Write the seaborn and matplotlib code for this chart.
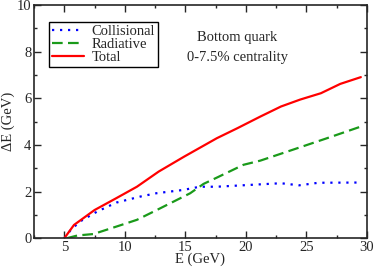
import numpy as np
import pandas as pd
import matplotlib
matplotlib.use("Agg")
import matplotlib.pyplot as plt
import seaborn as sns
from matplotlib.ticker import MultipleLocator

# values
e_coll = [5.0, 5.6, 6.4, 7.7, 9.3, 11.3, 12.6, 14.8, 16.2, 17.6, 20.4, 22.9, 24.4, 26.0, 29.5]
coll = [0.0, 0.4, 0.75, 1.14, 1.53, 1.79, 1.93, 2.07, 2.21, 2.21, 2.29, 2.36, 2.27, 2.38, 2.39]

e_rad = [5.2, 6.1, 7.4, 9.3, 11.0, 12.6, 15.4, 16.5, 17.6, 19.8, 21.2, 23.9, 26.7, 29.5]
rad = [0.0, 0.12, 0.18, 0.5, 0.79, 1.2, 1.93, 2.33, 2.6, 3.15, 3.33, 3.8, 4.29, 4.79]

e_tot = [5.0, 5.8, 7.5, 9.3, 11.0, 12.8, 14.9, 17.6, 19.3, 21.2, 22.9, 24.5, 26.2, 27.8, 29.5]
tot = [0.0, 0.57, 1.21, 1.72, 2.21, 2.86, 3.5, 4.29, 4.72, 5.22, 5.65, 5.95, 6.22, 6.62, 6.91]

sns.set_style("ticks")
plt.rcParams['font.family'] = ['Liberation Serif', 'DejaVu Serif']

fs = 10.5

fig = plt.figure(figsize=(3.74, 2.68), dpi=100)
ax = fig.add_axes([0.091, 0.111, 0.890, 0.870])

sns.lineplot(x=e_coll, y=coll, ax=ax, color='#0000ff', lw=1.6,
             linestyle=(0, (1, 2.6)), label='Collisional')
sns.lineplot(x=e_rad, y=rad, ax=ax, color='#1a9a1a', lw=1.6,
             linestyle=(0, (4.8, 2.4)), label='Radiative')
sns.lineplot(x=e_tot, y=tot, ax=ax, color='#ff0000', lw=1.6,
             label='Total')

ax.set_xlim(2.5, 30)
ax.set_ylim(0, 10)
ax.xaxis.set_major_locator(MultipleLocator(5))
ax.xaxis.set_minor_locator(MultipleLocator(2.5))
ax.yaxis.set_major_locator(MultipleLocator(2))
ax.yaxis.set_minor_locator(MultipleLocator(1))
ax.tick_params(which='both', direction='in', top=True, right=True,
               labelsize=fs, width=1.0, pad=2)
ax.tick_params(which='major', length=5)
ax.tick_params(which='minor', length=2.5)
for sp in ax.spines.values():
    sp.set_linewidth(1.2)

ax.set_xlabel('E (GeV)', fontsize=fs, labelpad=-1)
ax.set_ylabel('ΔE (GeV)', fontsize=fs, labelpad=1)

ax.text(19.3, 8.6, 'Bottom quark', ha='center', va='center', fontsize=fs)
ax.text(19.3, 7.75, '0-7.5% centrality', ha='center', va='center', fontsize=fs)

leg = ax.legend(loc='upper left', bbox_to_anchor=(0.045, 0.928), fontsize=fs,
                frameon=True, fancybox=False, framealpha=1, edgecolor='black',
                handlelength=2.2, handletextpad=0.5, borderpad=0.2,
                labelspacing=0.0, borderaxespad=0)
leg.get_frame().set_linewidth(1.0)

fig.savefig('out.png', dpi=100)
